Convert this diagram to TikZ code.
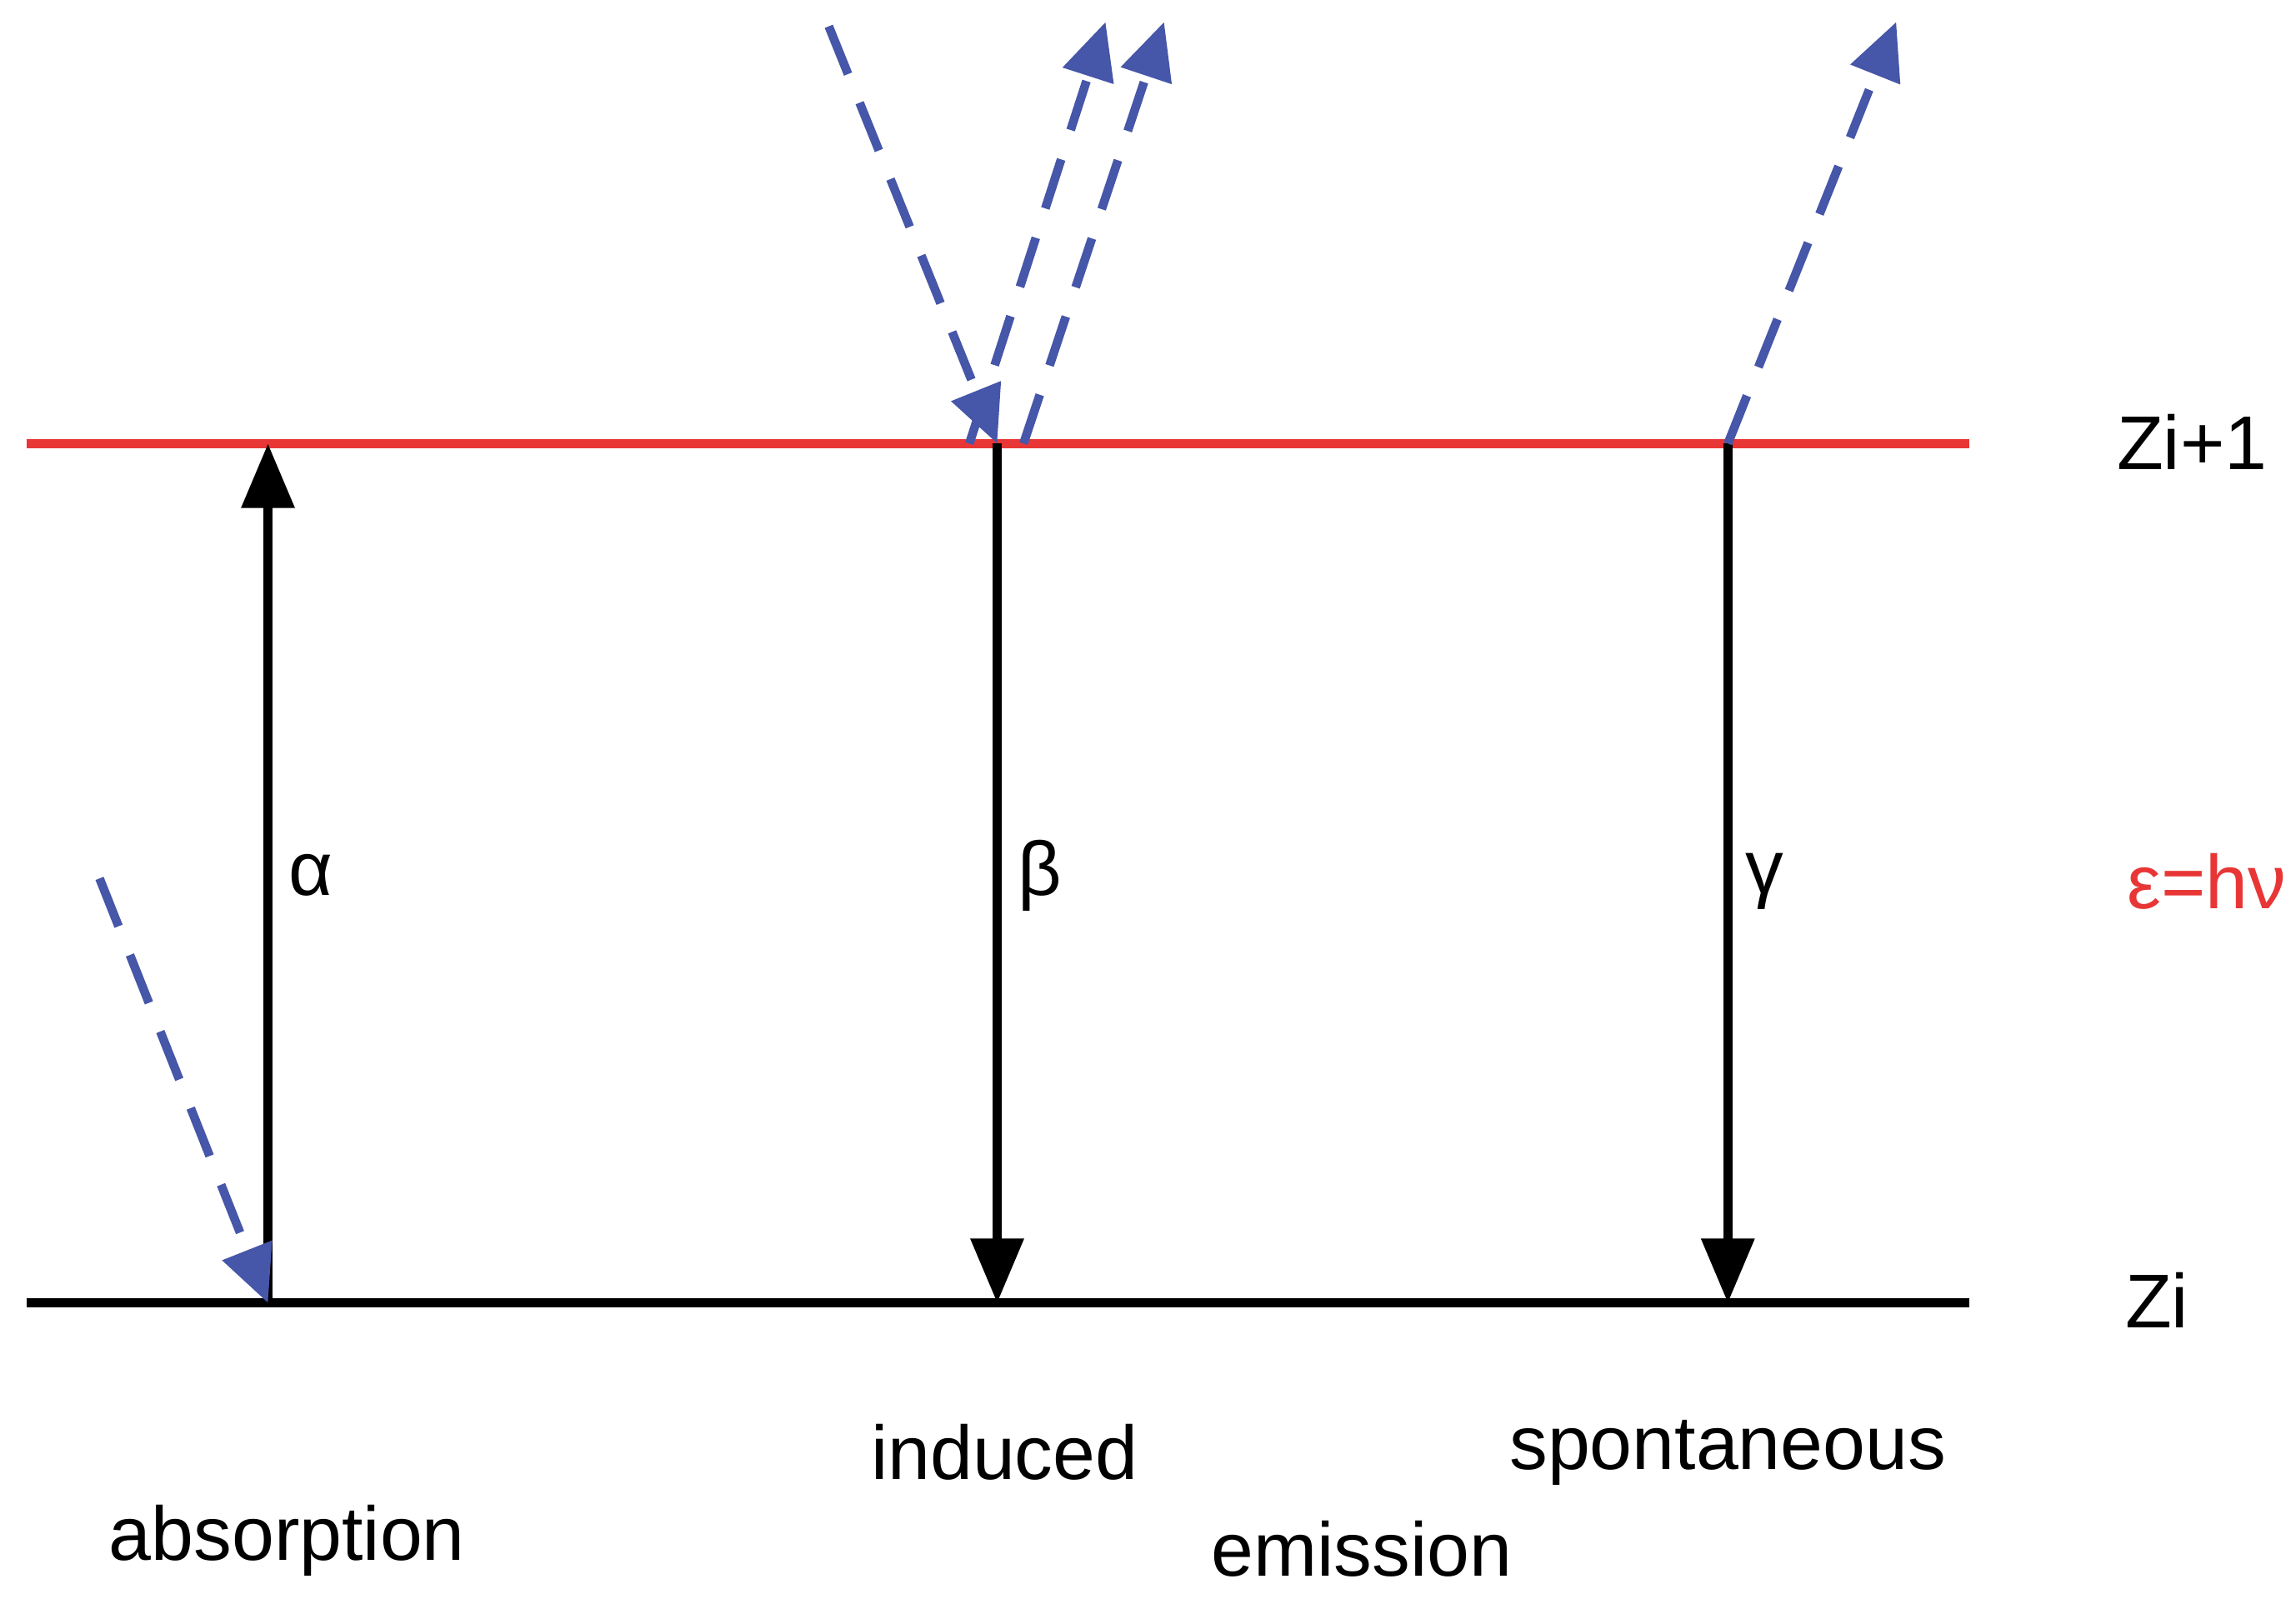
\documentclass[tikz,border=0pt]{standalone}
\usepackage{fontspec}
\setmainfont{Liberation Sans}
\usetikzlibrary{arrows.meta}
\definecolor{lblue}{HTML}{4656A8}
\definecolor{lred}{HTML}{E83636}
\begin{document}
\begin{tikzpicture}[x=0.01cm,y=-0.01cm,
  lvl/.style={line width=1.8pt},
  tr/.style={line width=1.7pt,-{Triangle[length=12.5pt,width=10pt]}},
  ph/.style={line width=1.7pt,lblue,dash pattern=on 10pt off 6pt,-{Triangle[length=11pt,width=10pt]}},
  lab/.style={font=\fontsize{14.8}{17}\selectfont,inner sep=0pt}]
\useasboundingbox (0,0) rectangle (1568,1092);
\coordinate (r0) at (18,303); \coordinate (r1) at (1345,303);
\coordinate (b0) at (18,890); \coordinate (b1) at (1345,890);
\draw[lvl,lred] (r0) -- (r1);
\draw[lvl] (b0) -- (b1);
\coordinate (a0) at (183,890); \coordinate (a1) at (183,303);
\coordinate (i0) at (681,303); \coordinate (i1) at (681,890);
\coordinate (s0) at (1180,303); \coordinate (s1) at (1180,890);
\draw[tr] (a0) -- (a1);
\draw[tr] (i0) -- (i1);
\draw[tr] (s0) -- (s1);
\coordinate (p1) at (68,600);
\coordinate (p2) at (566,18);
\coordinate (e1a) at (662,303); \coordinate (e1b) at (755,15);
\coordinate (e2a) at (699,303); \coordinate (e2b) at (795,15);
\coordinate (e3b) at (1295,15);
\draw[ph] (p1) -- (a0);
\draw[ph] (p2) -- (i0);
\draw[ph] (e1a) -- (e1b);
\draw[ph] (e2a) -- (e2b);
\draw[ph] (s0) -- (e3b);
\node[lab] (al) at (212,598) {α};
\node[lab] (be) at (710,598) {β};
\node[lab] (ga) at (1205,602) {γ};
\node[lab] (z1) at (1497,302) {Zi+1};
\node[lab] (z0) at (1473,888) {Zi};
\node[lab,text=lred] (en) at (1507,602) {ε=hν};
\node[lab] (ind) at (686,992) {induced};
\node[lab] (spo) at (1180,992) {spontaneous};
\node[lab] (abs) at (196,1052) {absorption};
\node[lab] (emi) at (930,1058) {emission};
\end{tikzpicture}
\end{document}
